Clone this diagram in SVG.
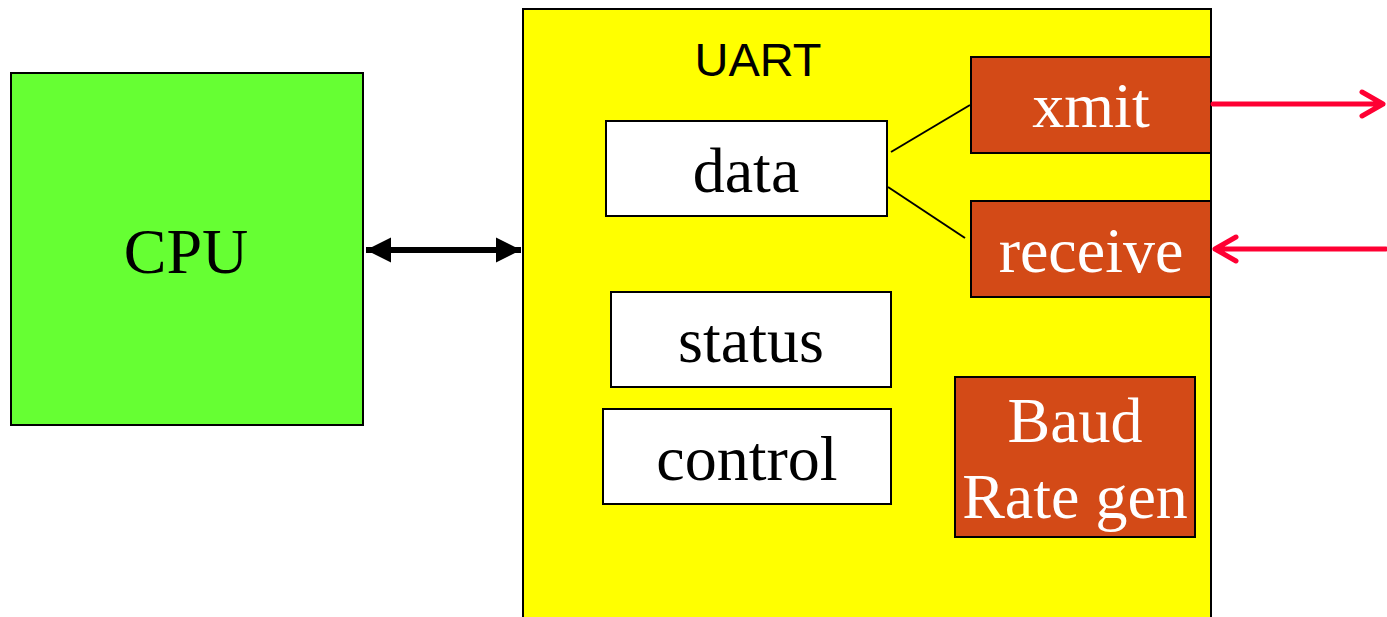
<svg xmlns="http://www.w3.org/2000/svg" width="1387" height="617" viewBox="0 0 1387 617">
<style>
.box{stroke:#000;stroke-width:2}
.reg{fill:#fff}
.blk{fill:#d34a17}
.t{font-family:"Liberation Serif",serif;font-size:64px;text-anchor:middle}
.w{fill:#fff}
.red{stroke:#ff0033;stroke-width:5;fill:none;stroke-linecap:round;stroke-linejoin:round}
</style>
<defs>
<marker id="ah" viewBox="0 0 10 10" refX="10" refY="5" markerWidth="4.2" markerHeight="4.2" orient="auto-start-reverse" markerUnits="strokeWidth">
<path d="M0,0 L10,5 L0,10 z" fill="#000"/>
</marker>
</defs>
<rect width="1387" height="617" fill="#fff"/>
<g id="cpu">
<rect class="box" x="11" y="73" width="352" height="352" fill="#66ff33"/>
<text class="t" x="186" y="273">CPU</text>
</g>
<g id="uart">
<rect class="box" x="523" y="9" width="688" height="612" fill="#ffff00"/>
<text x="758" y="76" font-family="Liberation Sans,sans-serif" font-size="47" text-anchor="middle">UART</text>
</g>
<g id="data">
<rect class="box reg" x="606" y="121" width="281" height="95"/>
<text class="t" x="746" y="192">data</text>
</g>
<g id="status">
<rect class="box reg" x="611" y="292" width="280" height="95"/>
<text class="t" x="751" y="362">status</text>
</g>
<g id="control">
<rect class="box reg" x="603" y="409" width="288" height="95"/>
<text class="t" x="747" y="480">control</text>
</g>
<g id="xmit">
<rect class="box blk" x="971" y="57" width="240" height="96"/>
<text class="t w" x="1091" y="127">xmit</text>
</g>
<g id="receive">
<rect class="box blk" x="971" y="201" width="240" height="96"/>
<text class="t w" x="1091" y="272">receive</text>
</g>
<g id="baud">
<rect class="box blk" x="955" y="377" width="240" height="160"/>
<text class="t w" x="1075" y="442">Baud</text>
<text class="t w" x="1075" y="518">Rate gen</text>
</g>
<g id="connectors">
<line x1="891" y1="152" x2="970" y2="105" stroke="#000" stroke-width="2"/>
<line x1="888" y1="187" x2="965" y2="238" stroke="#000" stroke-width="2"/>
<line x1="366" y1="250" x2="521" y2="250" stroke="#000" stroke-width="6" marker-start="url(#ah)" marker-end="url(#ah)"/>
<path class="red" d="M1213,104 H1383 M1362,92 L1383,104 L1362,116"/>
<path class="red" d="M1386,249 H1215 M1236,237 L1215,249 L1236,261"/>
</g>
</svg>
